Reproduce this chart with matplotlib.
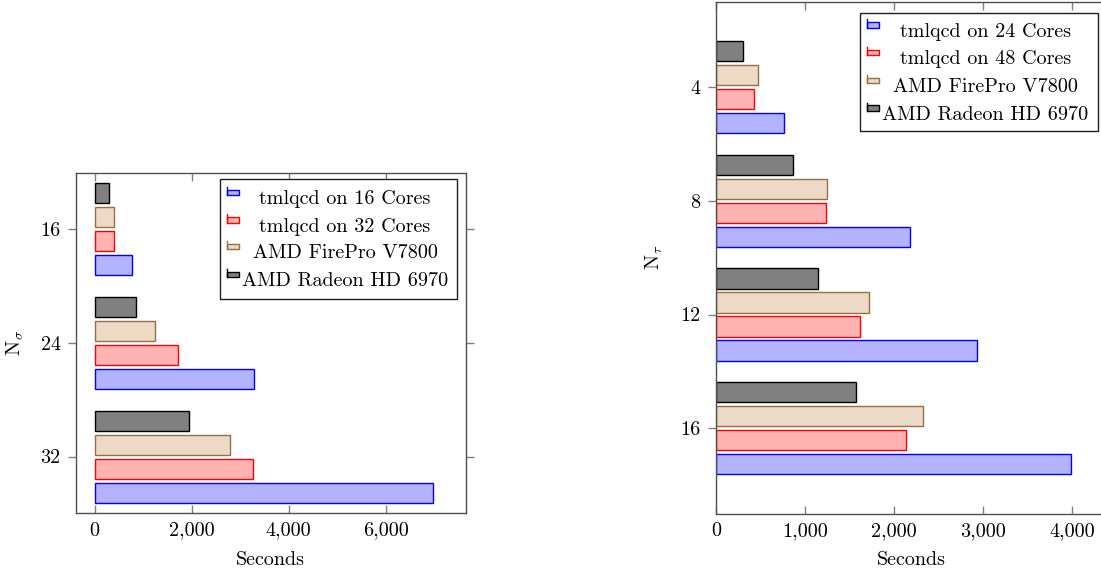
import matplotlib
matplotlib.use("Agg")
import matplotlib.pyplot as plt
from matplotlib.patches import Rectangle
from matplotlib.lines import Line2D
from matplotlib.ticker import FuncFormatter, FixedLocator

plt.rcParams["font.family"] = ["cmr10", "DejaVu Serif"]
plt.rcParams["mathtext.fontset"] = "cm"
plt.rcParams["axes.unicode_minus"] = False
plt.rcParams["font.size"] = 14.5

# ---- data: spatial lattice extent N_sigma (left panel) ----
sigma_sizes = [16, 24, 32]
sigma_cpu_16 = [777, 3278, 6983]
sigma_cpu_32 = [400, 1718, 3265]
sigma_firepro = [405, 1244, 2784]
sigma_radeon = [289, 859, 1952]
sigma_labels = ["tmlqcd on 16 Cores", "tmlqcd on 32 Cores",
                "AMD FirePro V7800", "AMD Radeon HD 6970"]

# ---- data: temporal lattice extent N_tau (right panel) ----
tau_sizes = [4, 8, 12, 16]
tau_cpu_24 = [760, 2184, 2929, 3985]
tau_cpu_48 = [423, 1240, 1622, 2135]
tau_firepro = [468, 1247, 1723, 2330]
tau_radeon = [307, 865, 1150, 1569]
tau_labels = ["tmlqcd on 24 Cores", "tmlqcd on 48 Cores",
              "AMD FirePro V7800", "AMD Radeon HD 6970"]

x_ticks_sigma = [0, 2000, 4000, 6000]
x_ticks_tau = [0, 1000, 2000, 3000, 4000]

# series styles: (fill, edge)
styles = [
    ((0.70, 0.70, 1.00), (0.0, 0.0, 1.0)),
    ((1.00, 0.70, 0.70), (1.0, 0.0, 0.0)),
    ((0.925, 0.85, 0.775), (0.60, 0.43, 0.27)),
    ((0.50, 0.50, 0.50), (0.0, 0.0, 0.0)),
]
# vertical slot of each series inside a group (bigger = lower on screen)
slots = [1.5, 0.5, -0.5, -1.5]

W, H = 1101, 573
fig = plt.figure(figsize=(W / 100, H / 100), dpi=100)

def px_rect(x0, y0, x1, y1):
    """Figure-fraction rectangle from pixel box (origin top-left)."""
    return [x0 / W, 1 - y1 / H, (x1 - x0) / W, (y1 - y0) / H]

spine_col = "#505050"
tick_col = "#808080"
thousands = FuncFormatter(lambda v, p: f"{int(v):,}")

def draw_panel(ax, sizes, series, step, thick, xlim, ylim, xticks, ylabel):
    for vals, (fc, ec), s in zip(series, styles, slots):
        pos = [g + s * step for g in sizes]
        ax.barh(pos, vals, height=thick, color=fc, edgecolor=ec,
                linewidth=1.0, zorder=2)
    ax.set_xlim(*xlim)
    ax.set_ylim(*ylim)
    ax.xaxis.set_major_locator(FixedLocator(xticks))
    ax.xaxis.set_major_formatter(thousands)
    ax.set_yticks(sizes)
    ax.set_yticklabels([str(v) for v in sizes])
    ax.tick_params(axis="x", direction="in", top=True, bottom=True,
                   length=6, width=1.0, color=tick_col, pad=6)
    ax.tick_params(axis="y", direction="out", left=True, right=True,
                   length=6, width=1.0, color=tick_col, pad=5)
    for sp in ax.spines.values():
        sp.set_color(spine_col)
        sp.set_linewidth(1.0)
    ax.set_xlabel("Seconds", labelpad=8)
    ax.set_ylabel(ylabel, labelpad=11)

def draw_legend(box, labels, text_x, rows):
    x0, y0, x1, y1 = box
    frame = Rectangle((x0 / W, 1 - y1 / H), (x1 - x0) / W, (y1 - y0) / H,
                      transform=fig.transFigure, facecolor="white",
                      edgecolor="#202020", linewidth=1.0, zorder=10)
    fig.add_artist(frame)
    hx = x0 + 7
    for (fc, ec), label, ty in zip(styles, labels, rows):
        bottom = ty - 4
        rect = Rectangle((hx / W, 1 - bottom / H), 12 / W, 5.5 / H,
                         transform=fig.transFigure, facecolor=fc,
                         edgecolor=ec, linewidth=1.0, zorder=11)
        fig.add_artist(rect)
        stem = Line2D([hx / W, hx / W], [1 - bottom / H, 1 - (bottom - 8.5) / H],
                      transform=fig.transFigure, color=ec, linewidth=1.0,
                      zorder=11)
        fig.add_artist(stem)
        fig.text(text_x / W, 1 - ty / H, label, ha="center", va="center",
                 zorder=12)

# left panel
ax1 = fig.add_axes(px_rect(76, 172.7, 465.7, 513.3))
draw_panel(ax1, sigma_sizes,
           [sigma_cpu_16, sigma_cpu_32, sigma_firepro, sigma_radeon],
           step=1.69, thick=1.41, xlim=(-385, 7650), ylim=(36, 12),
           xticks=x_ticks_sigma, ylabel=r"N$_{\sigma}$")
draw_legend((220, 179.3, 457.3, 299), sigma_labels, 345,
            [199, 226.7, 253.3, 281])

# right panel (extends past the right edge of the figure)
ax2 = fig.add_axes(px_rect(716, 1.8, 1106, 513.5))
draw_panel(ax2, tau_sizes,
           [tau_cpu_24, tau_cpu_48, tau_firepro, tau_radeon],
           step=0.845, thick=0.707, xlim=(0, 4382), ylim=(19, 1),
           xticks=x_ticks_tau, ylabel=r"N$_{\tau}$")
draw_legend((860, 12.7, 1097.7, 131), tau_labels, 985.3,
            [31.7, 59.3, 87.3, 115])

fig.savefig("out.png", dpi=100)
